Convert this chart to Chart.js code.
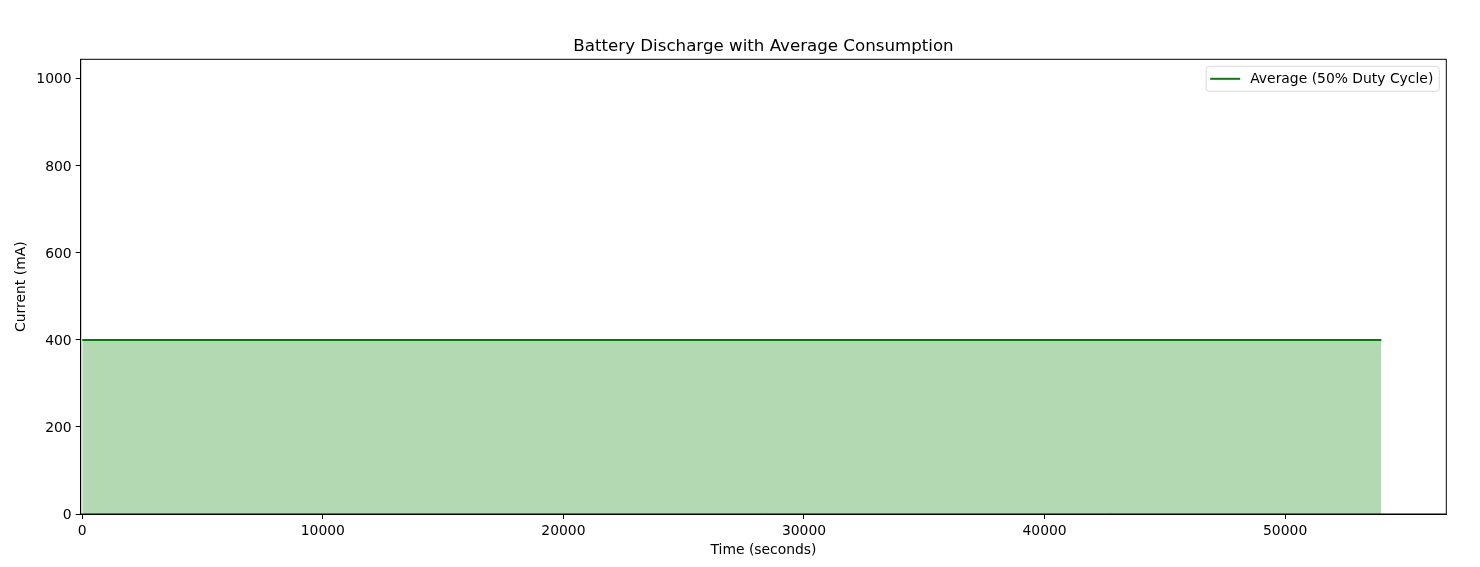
<!DOCTYPE html>
<html>
<head>
<meta charset="utf-8">
<title>Battery Discharge with Average Consumption</title>
<script src="https://cdn.jsdelivr.net/npm/chart.js@4/dist/chart.umd.min.js"></script>
<style>
    html, body { margin: 0; padding: 0; background: #fff; }
    #wrap { width: 1480px; height: 567px; }
</style>
</head>
<body>
<div id="wrap"><canvas id="chart"></canvas></div>
<script>
// data
const timeSeconds = [0, 54000];
const averageCurrent = [400, 400];
const xTicks = [0, 10000, 20000, 30000, 40000, 50000];
const yTicks = [0, 200, 400, 600, 800, 1000];
const chartTitle = 'Battery Discharge with Average Consumption';

const FONT = "'DejaVu Sans', sans-serif";
const SMALL = 13.9;

// top/right spines like matplotlib
const frameBox = {
    id: 'frameBox',
    afterDatasetsDraw(chart) {
        const {ctx, chartArea: a} = chart;
        ctx.save();
        ctx.strokeStyle = '#000';
        ctx.lineWidth = 1;
        ctx.strokeRect(a.left, a.top, a.right - a.left, a.bottom - a.top);
        ctx.restore();
    }
};

// title centred over the axes, not the whole canvas
const axesTitle = {
    id: 'axesTitle',
    afterDraw(chart) {
        const {ctx, chartArea: a} = chart;
        ctx.save();
        ctx.font = '16.67px ' + FONT;
        ctx.fillStyle = '#000';
        ctx.textAlign = 'center';
        ctx.textBaseline = 'alphabetic';
        ctx.fillText(chartTitle, (a.left + a.right) / 2, a.top - 8.5);
        ctx.restore();
    }
};

// legend box in upper right corner
const cornerLegend = {
    id: 'cornerLegend',
    afterDraw(chart) {
        const {ctx, chartArea: a} = chart;
        const ds = chart.data.datasets[0];
        ctx.save();
        ctx.font = SMALL + 'px ' + FONT;
        const textW = ctx.measureText(ds.label).width;
        const w = textW + 50, h = 25;
        const x = a.right - 7 - w, y = a.top + 7;
        ctx.beginPath();
        ctx.roundRect(x, y, w, h, 3);
        ctx.fillStyle = 'rgba(255,255,255,0.8)';
        ctx.fill();
        ctx.strokeStyle = '#d9d9d9';
        ctx.lineWidth = 1;
        ctx.stroke();
        ctx.beginPath();
        ctx.moveTo(x + 4, y + h / 2);
        ctx.lineTo(x + 34, y + h / 2);
        ctx.strokeStyle = ds.borderColor;
        ctx.lineWidth = 2;
        ctx.stroke();
        ctx.fillStyle = '#000';
        ctx.textBaseline = 'middle';
        ctx.fillText(ds.label, x + 44, y + h / 2 + 1);
        ctx.restore();
    }
};

new Chart(document.getElementById('chart'), {
    type: 'line',
    data: {
        datasets: [{
            label: 'Average (50% Duty Cycle)',
            data: timeSeconds.map((t, i) => ({x: t, y: averageCurrent[i]})),
            borderColor: '#008000',
            borderWidth: 2,
            backgroundColor: 'rgba(0,128,0,0.3)',
            fill: 'origin',
            pointRadius: 0,
            tension: 0
        }]
    },
    options: {
        responsive: true,
        maintainAspectRatio: false,
        animation: false,
        layout: { padding: { left: 0, right: 33.7, top: 59.3, bottom: 0 } },
        plugins: {
            legend: { display: false },
            tooltip: { enabled: false },
            title: { display: false }
        },
        scales: {
            x: {
                type: 'linear',
                min: -66,
                max: 56700,
                afterBuildTicks: s => { s.ticks = xTicks.map(v => ({value: v})); },
                afterFit: s => { s.height = 53; },
                ticks: {
                    color: '#000',
                    font: { family: FONT, size: SMALL },
                    padding: 4,
                    maxRotation: 0,
                    callback: v => String(v)
                },
                grid: { drawOnChartArea: false, tickLength: 5, color: '#000' },
                border: { color: '#000', width: 1 },
                title: {
                    display: true,
                    text: 'Time (seconds)',
                    color: '#000',
                    font: { family: FONT, size: SMALL },
                    padding: { top: 0, bottom: 8.5 }
                }
            },
            y: {
                min: 0,
                max: 1045,
                afterBuildTicks: s => { s.ticks = yTicks.map(v => ({value: v})); },
                afterFit: s => { s.width = 80.7; },
                ticks: {
                    color: '#000',
                    font: { family: FONT, size: SMALL },
                    padding: 4,
                    labelOffset: 1,
                    callback: v => String(v)
                },
                grid: { drawOnChartArea: false, tickLength: 5, color: '#000' },
                border: { color: '#000', width: 1 },
                title: {
                    display: true,
                    text: 'Current (mA)',
                    color: '#000',
                    font: { family: FONT, size: SMALL },
                    padding: { top: 13.5, bottom: 0 }
                }
            }
        }
    },
    plugins: [frameBox, axesTitle, cornerLegend]
});
</script>
</body>
</html>
